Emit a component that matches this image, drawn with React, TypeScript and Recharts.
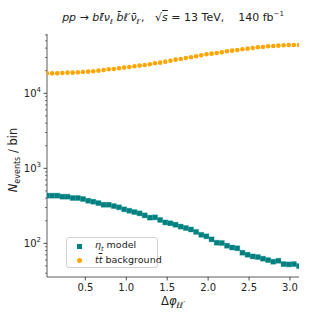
/**
 * Delta-phi distribution, signal vs ttbar background (log scale)
 */
import React from 'react';
import { ScatterChart, Scatter, XAxis, YAxis } from 'recharts';

// bin centres of Δφ (50 bins on 0..π)
const dphi = [
  0.0314, 0.0942, 0.1571, 0.2199, 0.2827, 0.3456, 0.4084, 0.4712, 0.5341, 0.5969,
  0.6597, 0.7226, 0.7854, 0.8482, 0.9111, 0.9739, 1.0367, 1.0996, 1.1624, 1.2252,
  1.2881, 1.3509, 1.4137, 1.4765, 1.5394, 1.6022, 1.665, 1.7279, 1.7907, 1.8535,
  1.9164, 1.9792, 2.042, 2.1049, 2.1677, 2.2305, 2.2934, 2.3562, 2.419, 2.4819,
  2.5447, 2.6075, 2.6704, 2.7332, 2.796, 2.8588, 2.9217, 2.9845, 3.0473, 3.1102,
];

const etaModel = [
  432, 432, 432, 419, 419, 402, 402, 390, 370, 359,
  344, 327, 327, 314, 302, 284, 272, 261, 251, 236,
  220, 222, 205, 190, 185, 177, 167, 160, 153, 142,
  130, 124, 113, 102, 101, 93, 88, 86, 75, 70.5,
  67, 65.6, 62.4, 59.8, 56.9, 58.6, 52.9, 52.4, 52.9, 49.8,
];

const ttBackground = [
  18450, 18450, 18450, 18650, 18840, 18840, 19030, 19230, 19430, 19630,
  20040, 20460, 20880, 21100, 21540, 21990, 22440, 22910, 23390, 23870,
  24370, 25100, 25610, 26400, 27200, 28070, 28650, 29560, 30170, 31140,
  32100, 33100, 33780, 34480, 35200, 36280, 37000, 37780, 38560, 39360,
  40180, 41020, 41440, 42300, 42740, 43180, 43630, 44080, 44080, 44080,
];

const xTicks = [0.5, 1.0, 1.5, 2.0, 2.5, 3.0];
const yTicks = [
  40, 50, 60, 70, 80, 90,
  100, 200, 300, 400, 500, 600, 700, 800, 900,
  1000, 2000, 3000, 4000, 5000, 6000, 7000, 8000, 9000,
  10000, 20000, 30000, 40000, 50000, 60000,
];

const TEAL = '#008080';
const ORANGE = '#ffa500';
const INK = '#222';
const FONT = '"DejaVu Sans", sans-serif';

const signalData = dphi.map((x, i) => ({ x, y: etaModel[i] }));
const bkgData = dphi.map((x, i) => ({ x, y: ttBackground[i] }));

function SquareMark(props: any) {
  const { cx, cy } = props;
  return (
    <rect x={cx - 2.5} y={cy - 2.5} width={5} height={5} fill={TEAL} stroke="rgba(0,128,128,0.3)" strokeWidth={1} />
  );
}

function DotMark(props: any) {
  const { cx, cy } = props;
  return <circle cx={cx} cy={cy} r={2.3} fill={ORANGE} />;
}

function YTick(props: any) {
  const { x, y, payload } = props;
  const v = payload.value;
  const exp = Math.round(Math.log10(v));
  const major = Math.abs(Math.pow(10, exp) - v) < 1e-6;
  return (
    <g>
      <line x1={x - (major ? 3.5 : 2)} x2={x} y1={y} y2={y} stroke={INK} strokeWidth={major ? 0.8 : 0.6} />
      {major && (
        <text x={x - 6} y={y + 4} textAnchor="end" fontSize={10} fill={INK} fontFamily={FONT}>
          10<tspan dy={-5} fontSize={7}>{exp}</tspan>
        </text>
      )}
    </g>
  );
}

function XTick(props: any) {
  const { x, y, payload } = props;
  return (
    <g>
      <line x1={x} x2={x} y1={y} y2={y + 3.5} stroke={INK} strokeWidth={0.8} />
      <text x={x} y={y + 14} textAnchor="middle" fontSize={10} fill={INK} fontFamily={FONT}>
        {payload.value.toFixed(1)}
      </text>
    </g>
  );
}

function LegendBox() {
  const row = { display: 'flex', alignItems: 'center', height: 14, whiteSpace: 'nowrap' } as const;
  const mark = { display: 'inline-block', flexShrink: 0, marginRight: 13 } as const;
  return (
    <div
      style={{
        position: 'absolute', left: 66, top: 237, width: 92, height: 31, boxSizing: 'border-box',
        border: '1px solid #d0d0d0',
        borderRadius: 3,
        padding: '1px 0 1px 10px',
        background: 'rgba(255,255,255,0.8)',
        fontFamily: FONT,
        fontSize: 9.5,
        color: INK,
        lineHeight: 1,
      }}
    >
      <div style={row}>
        <span style={{ ...mark, width: 5, height: 5, background: TEAL }} />
        <span>
          <i>η</i>
          <sub style={{ fontSize: 6.5, fontStyle: 'italic' }}>t</sub> model
        </span>
      </div>
      <div style={row}>
        <span style={{ ...mark, width: 5, height: 5, borderRadius: '50%', background: ORANGE }} />
        <span>
          <i>t</i>
          <i style={{ textDecoration: 'overline' }}>t</i> background
        </span>
      </div>
    </div>
  );
}

export default function App() {
  return (
    <div style={{ position: 'absolute', left: 0, top: 0, width: 312, height: 312, background: '#fff' }}>
      <ScatterChart width={312} height={312} margin={{ top: 34, right: 13, bottom: 0, left: 0 }}>
        <XAxis
          xAxisId="b"
          dataKey="x"
          type="number"
          domain={[dphi[0], dphi[dphi.length - 1]]}
          allowDataOverflow
          ticks={xTicks}
          tick={<XTick />}
          tickLine={false}
          tickSize={0}
          tickMargin={0}
          height={35}
          axisLine={{ stroke: '#333', strokeWidth: 0.8 }}
        />
        <XAxis xAxisId="t" orientation="top" type="number" domain={[0, 1]} height={0} tick={false} tickLine={false} axisLine={{ stroke: '#333', strokeWidth: 0.8 }} />
        <YAxis
          yAxisId="l"
          dataKey="y"
          type="number"
          scale="log"
          domain={[35.6, 61700]}
          allowDataOverflow
          ticks={yTicks}
          interval={0}
          tick={<YTick />}
          tickLine={false}
          tickSize={0}
          tickMargin={0}
          width={47}
          axisLine={{ stroke: '#333', strokeWidth: 0.8 }}
        />
        <YAxis yAxisId="r" orientation="right" type="number" domain={[0, 1]} width={0} tick={false} tickLine={false} axisLine={{ stroke: '#333', strokeWidth: 0.8 }} />
        <Scatter
          name="ηt model"
          data={signalData}
          xAxisId="b"
          yAxisId="l"
          shape={<SquareMark />}
          fill={TEAL}
          isAnimationActive={false}
        />
        <Scatter
          name="tt background"
          data={bkgData}
          xAxisId="b"
          yAxisId="l"
          shape={<DotMark />}
          fill={ORANGE}
          isAnimationActive={false}
        />
      </ScatterChart>
      <LegendBox />
      <div
        style={{
          position: 'absolute', left: 0, width: 346, top: 10, textAlign: 'center',
          fontFamily: FONT, fontSize: 11, color: INK, whiteSpace: 'nowrap',
        }}
      >
        <i>pp</i> → <i>b</i><i>ℓ̄</i><i>ν</i><sub style={{ fontSize: 7 }}><i>ℓ</i></sub>{' '}
        <i>b̄</i><i>ℓ′</i><i>ν̄</i><sub style={{ fontSize: 7 }}><i>ℓ′</i></sub>,&nbsp;&nbsp; √<span style={{ textDecoration: 'overline' }}><i>s</i></span> = 13 TeV,&nbsp;&nbsp;&nbsp; 140 fb<sup style={{ fontSize: 7 }}>−1</sup>
      </div>
      <div
        style={{
          position: 'absolute', left: 14, top: 160, transform: 'translate(-50%, -50%) rotate(-90deg)',
          fontFamily: FONT, fontSize: 11.5, color: INK, whiteSpace: 'nowrap',
        }}
      >
        <i>N</i><sub style={{ fontSize: 8 }}>events</sub> / bin
      </div>
      <div
        style={{
          position: 'absolute', left: 173, top: 302, transform: 'translate(-50%, -50%)',
          fontFamily: FONT, fontSize: 11.5, color: INK, whiteSpace: 'nowrap',
        }}
      >
        Δ<i>φ</i><sub style={{ fontSize: 8 }}><i>ℓℓ′</i></sub>
      </div>
    </div>
  );
}
